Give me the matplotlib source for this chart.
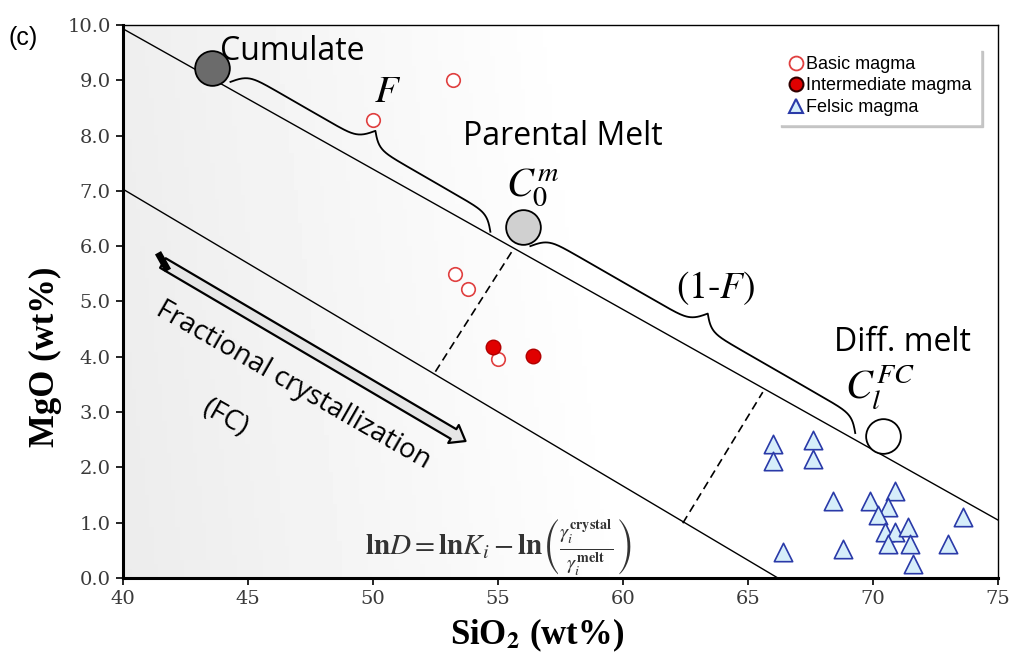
import numpy as np
import matplotlib
matplotlib.use("Agg")
import matplotlib.pyplot as plt
from matplotlib.lines import Line2D

plt.rcParams['mathtext.fontset'] = 'stix'

# --- data ---
basic_x = [50.0, 53.2, 53.3, 53.8, 55.0]
basic_y = [8.28, 9.00, 5.50, 5.22, 3.95]

inter_x = [54.8, 56.4]
inter_y = [4.17, 4.02]

felsic_x = [66.0, 66.0, 67.6, 67.6, 68.4, 69.9, 70.9, 70.6, 70.2, 70.5,
            70.9, 71.4, 70.6, 71.5, 71.6, 73.0, 73.6, 66.4, 68.8]
felsic_y = [2.42, 2.12, 2.50, 2.15, 1.40, 1.40, 1.58, 1.28, 1.13, 0.83,
            0.83, 0.92, 0.62, 0.62, 0.26, 0.62, 1.10, 0.47, 0.53]

# end-member melts
cumulate = (43.55, 9.22)
parental = (56.0, 6.35)
diff_melt = (70.4, 2.57)

# boundary lines and tie lines
upper_line_x = [40.0, 75.0]
upper_line_y = [9.93, 1.05]
lower_line_x = [40.0, 66.2]
lower_line_y = [7.03, 0.0]
tie1_x = [52.5, 55.6]
tie1_y = [3.73, 5.93]
tie2_x = [62.4, 65.6]
tie2_y = [0.99, 3.36]

# brace end points (data)
brace_F = [(44.3, 8.97), (54.7, 6.26)]
brace_1F = [(56.3, 6.00), (69.3, 2.62)]

xticks = [40, 45, 50, 55, 60, 65, 70, 75]
yticks = np.arange(0, 10.01, 1.0)

# px per data unit (used for drawing braces in screen-like space)
SX, SY = 25.0, 55.3


def brace(ax, p0, p1, h=30, b=0.16):
    x0, y0 = p0[0] * SX, p0[1] * SY
    x1, y1 = p1[0] * SX, p1[1] * SY
    L = np.hypot(x1 - x0, y1 - y0)
    ux, uy = (x1 - x0) / L, (y1 - y0) / L
    nx, ny = -uy, ux
    t = np.linspace(0, L / 2, 200)
    off = (1 / (1 + np.exp(-b * t)) + 1 / (1 + np.exp(-b * (t - L / 2))) - 0.5) * h
    t = np.concatenate([t, L - t[::-1]])
    off = np.concatenate([off, off[::-1]])
    px = x0 + ux * t + nx * off
    py = y0 + uy * t + ny * off
    ax.plot(px / SX, py / SY, color='black', lw=1.3, zorder=3)


fig = plt.figure(figsize=(10.1, 6.56), dpi=100)
ax = fig.add_axes([0.1218, 0.119, 0.866, 0.843])

# soft grey background
gx = np.linspace(0, 1, 200)
gy = np.linspace(0, 1, 120)
GX, GY = np.meshgrid(gx, gy)
grad = 0.925 + 0.075 * np.clip(GX * 1.7, 0, 1) + 0.01 * GY
ax.imshow(grad, extent=(0, 1, 0, 1), transform=ax.transAxes, aspect='auto',
          cmap='gray', vmin=0, vmax=1, zorder=0, origin='lower')

ax.plot(upper_line_x, upper_line_y, color='black', lw=1.0, zorder=2)
ax.plot(lower_line_x, lower_line_y, color='black', lw=1.0, zorder=2)
ax.plot(tie1_x, tie1_y, color='black', lw=1.2, ls=(0, (5, 3)), zorder=2)
ax.plot(tie2_x, tie2_y, color='black', lw=1.2, ls=(0, (5, 3)), zorder=2)

brace(ax, *brace_F)
brace(ax, *brace_1F)

ax.plot(*cumulate, 'o', ms=25, mfc='#6b6b6b', mec='black', mew=1.3, zorder=4)
ax.plot(*parental, 'o', ms=25, mfc='#d0d0d0', mec='black', mew=1.3, zorder=4)
ax.plot(*diff_melt, 'o', ms=25, mfc='white', mec='black', mew=1.3, zorder=4)

ax.scatter(basic_x, basic_y, s=95, facecolors='white', edgecolors='#e04040',
           linewidths=1.2, zorder=5)
ax.scatter(inter_x, inter_y, s=110, facecolors='#e00000', edgecolors='#b00000',
           linewidths=1.0, zorder=5)
ax.scatter(felsic_x, felsic_y, s=175, marker='^', facecolors='#d6eefa',
           edgecolors='#2a3aa8', linewidths=1.2, zorder=5)

# annotations
sans = 'Open Sans'
ax.text(43.9, 9.52, 'Cumulate', fontsize=23, family=sans, ha='left', va='center', zorder=6)
ax.text(57.6, 7.98, 'Parental Melt', fontsize=23, family=sans, ha='center', va='center', zorder=6)
ax.text(71.2, 4.25, 'Diff. melt', fontsize=23, family=sans, ha='center', va='center', zorder=6)
ax.text(56.4, 7.05, r'$C_0^m$', fontsize=29, ha='center', va='center', zorder=6)
ax.text(70.3, 3.45, r'$C_l^{FC}$', fontsize=29, ha='center', va='center', zorder=6)
ax.text(50.6, 8.8, r'$F$', fontsize=28, ha='center', va='center', zorder=6)
ax.text(63.7, 5.25, r'$(1\text{-}F)$', fontsize=27, ha='center', va='center', zorder=6)
ax.text(55.0, 0.54,
        r'$\mathbf{ln}D = \mathbf{ln}K_i - \mathbf{ln}\left(\frac{\gamma_i^{\mathbf{crystal}}}{\gamma_i^{\mathbf{melt}}}\right)$',
        fontsize=21, ha='center', va='center', color='#333333', zorder=6)

# fractional crystallisation arrow
ax.annotate('', xy=(53.8, 2.45), xytext=(41.5, 5.72),
            arrowprops=dict(arrowstyle='simple,head_width=1.5,head_length=1.0,tail_width=0.8',
                            fc='#e6e6e6', ec='black', lw=1.6), zorder=6)
ax.plot([41.4, 41.8], [5.88, 5.56], color='black', lw=5, solid_capstyle='butt', zorder=7)
ax.text(46.8, 3.48, 'Fractional crystallization', fontsize=20, family=sans,
        rotation=-29.8, ha='center', va='center', rotation_mode='anchor', zorder=6)
ax.text(44.1, 2.88, '(FC)', fontsize=20, family=sans,
        rotation=-29.8, ha='center', va='center', rotation_mode='anchor', zorder=6)

# legend
handles = [
    Line2D([], [], ls='none', marker='o', ms=10, mfc='white', mec='#e04040', mew=1.3),
    Line2D([], [], ls='none', marker='o', ms=10, mfc='#e00000', mec='#300000', mew=1.5),
    Line2D([], [], ls='none', marker='^', ms=10, mfc='#d6eefa', mec='#2a3aa8', mew=1.5),
]
labels = ['Basic magma', 'Intermediate magma', 'Felsic magma']
leg = ax.legend(handles, labels, loc='upper right', bbox_to_anchor=(0.99, 0.975),
                frameon=True, fancybox=False, shadow={'color': '#bbbbbb', 'alpha': 0.8},
                handletextpad=0.1, handlelength=1.0, labelspacing=0.25, borderpad=0.45,
                prop={'family': 'Liberation Sans', 'size': 13})
leg.get_frame().set_edgecolor('white')
leg.get_frame().set_facecolor('white')
leg.set_zorder(8)

ax.set_xlim(40, 75)
ax.set_ylim(0, 10)
ax.set_xticks(xticks)
ax.set_yticks(yticks)
ax.set_yticklabels([f'{v:.1f}' for v in yticks])
for lab in ax.get_xticklabels() + ax.get_yticklabels():
    lab.set_family('DejaVu Serif')
    lab.set_fontsize(14)
    lab.set_color('#3a3a3a')
ax.tick_params(direction='out', length=5, width=1.2, pad=4)

for s in ['left', 'bottom']:
    ax.spines[s].set_linewidth(2.2)
for s in ['top', 'right']:
    ax.spines[s].set_linewidth(1.0)

ax.set_xlabel(r'SiO$_\mathbf{2}$ (wt%)', fontsize=25, fontweight='bold',
              family='Liberation Serif')
ax.xaxis.set_label_coords(0.473, -0.07)
ax.set_ylabel('MgO (wt%)', fontsize=25, fontweight='bold', family='Liberation Serif')
ax.yaxis.set_label_coords(-0.07, 0.40)

fig.text(0.008, 0.942, '(c)', fontsize=18, family='Liberation Sans', ha='left', va='center')

fig.savefig('out.png', dpi=100)
